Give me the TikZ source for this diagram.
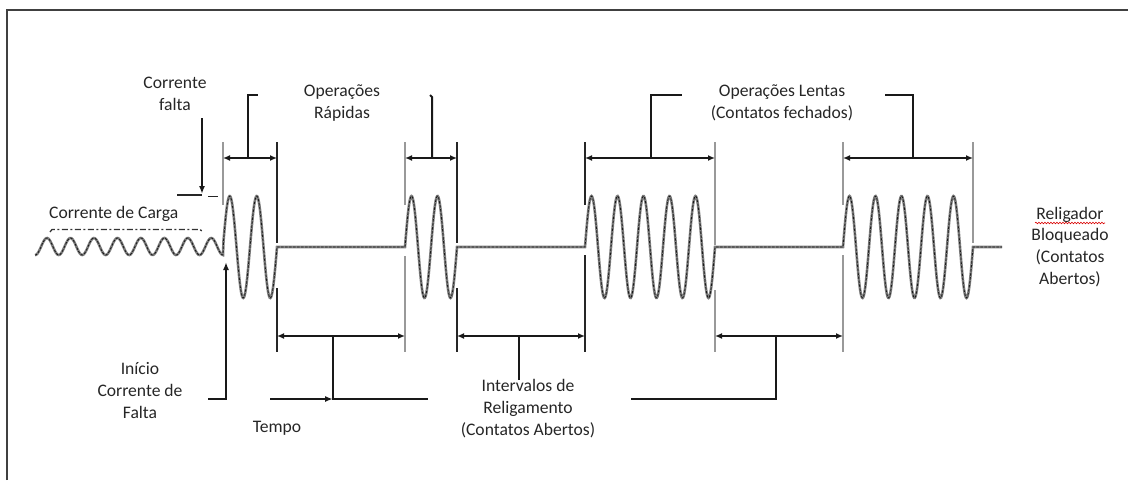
\documentclass[tikz,border=0pt]{standalone}
\usepackage{fontspec}
\setmainfont{Carlito}
\usetikzlibrary{arrows.meta,decorations.pathmorphing}
\begin{document}
\begin{tikzpicture}[x=1pt,y=-1pt,
  txt/.style={font=\fontsize{17.6}{21.7}\selectfont, text=black!85, align=center, inner sep=0pt},
  wave/.style={draw=black!90, line width=0.8pt, dash pattern=on 2.5pt off 1.5pt, line join=round,
               preaction={draw=black!50, line width=2.6pt, solid}},
  mdark/.style={draw=black!85, line width=1.7pt},
  mgray/.style={draw=black!40, line width=1.7pt},
  dimarrow/.style={draw=black!90, line width=2pt, {Latex[length=7pt,width=6pt]}-{Latex[length=7pt,width=6pt]}},
  lead/.style={draw=black!90, line width=2pt},
  ptr/.style={draw=black!90, line width=2pt, -{Latex[length=8pt,width=6pt]}}
]
\useasboundingbox (0,0) rectangle (1128,480);
% frame (top and left only)
\coordinate (fbl) at (7,480); \coordinate (ftl) at (7,10); \coordinate (ftr) at (1128,10);
\draw[black!75, line width=1.6pt] (fbl) -- (ftl) -- (ftr);

% ---------- signal trace ----------
\draw[wave] plot[domain=35:223, samples=200] (\x,{246.5-8.5*sin(15.339*(\x-41.13))})
  -- (223,255)
  -- plot[domain=223.5:277, samples=90] (\x,{247-51*sin(13.333*(\x-223))})
  -- (405,247)
  -- plot[domain=405:457, samples=90] (\x,{247-51*sin(13.846*(\x-405))})
  -- (585,247)
  -- plot[domain=585:715, samples=200] (\x,{247-51*sin(13.846*(\x-585))})
  -- (843,247)
  -- plot[domain=843:973, samples=200] (\x,{247-51*sin(13.846*(\x-843))})
  -- (1002,247);

% dashed line over load current
\coordinate (dl1) at (50,232); \coordinate (dl2) at (52,229.5);
\coordinate (dl3) at (200,229.5); \coordinate (dl4) at (203,232);
\draw[black!80, line width=1.3pt, dash pattern=on 6pt off 2.5pt on 2pt off 2.5pt] (dl1) -- (dl2) -- (dl3) -- (dl4);

% ---------- marker lines ----------
\coordinate (a1t) at (223,142); \coordinate (a1b) at (223,205);
\coordinate (b1t) at (277,142); \coordinate (b1m) at (277,243);
\coordinate (b1l) at (277,288); \coordinate (b1d) at (277,352);
\coordinate (a2t) at (405,142); \coordinate (a2b) at (405,205);
\coordinate (a2l) at (405,256); \coordinate (a2d) at (405,352);
\coordinate (b2t) at (457,142); \coordinate (b2m) at (457,243);
\coordinate (b2l) at (457,288); \coordinate (b2d) at (457,352);
\coordinate (a3t) at (585,142); \coordinate (a3b) at (585,205);
\coordinate (a3l) at (585,255); \coordinate (a3d) at (585,352);
\coordinate (b3t) at (715,142); \coordinate (b3m) at (715,245);
\coordinate (b3l) at (715,290); \coordinate (b3d) at (715,352);
\coordinate (a4t) at (843,142); \coordinate (a4b) at (843,205);
\coordinate (a4l) at (843,255); \coordinate (a4d) at (843,352);
\coordinate (b4t) at (973,142); \coordinate (b4m) at (973,243);

\draw[mgray] (a1t) -- (a1b);
\draw[mdark] (b1t) -- (b1m);  \draw[mdark] (b1l) -- (b1d);
\draw[mgray] (a2t) -- (a2b);  \draw[mgray] (a2l) -- (a2d);
\draw[mdark] (b2t) -- (b2m);  \draw[mdark] (b2l) -- (b2d);
\draw[mdark] (a3t) -- (a3b);  \draw[mdark] (a3l) -- (a3d);
\draw[mgray] (b3t) -- (b3m);  \draw[mgray] (b3l) -- (b3d);
\draw[mgray] (a4t) -- (a4b);  \draw[mgray] (a4l) -- (a4d);
\draw[mgray] (b4t) -- (b4m);

% ---------- upper dimension arrows ----------
\coordinate (u1a) at (223,158); \coordinate (u1b) at (277,158);
\coordinate (u2a) at (405,158); \coordinate (u2b) at (457,158);
\coordinate (u3a) at (585,158); \coordinate (u3b) at (715,158);
\coordinate (u4a) at (843,158); \coordinate (u4b) at (973,158);
\draw[dimarrow] (u1a) -- (u1b);
\draw[dimarrow] (u2a) -- (u2b);
\draw[dimarrow] (u3a) -- (u3b);
\draw[dimarrow] (u4a) -- (u4b);

\coordinate (s1) at (248,158); \coordinate (s1t) at (248,95); \coordinate (s1e) at (258,95);
\coordinate (s2) at (432,158); \coordinate (s2t) at (432,97); \coordinate (s2e) at (430,95);
\coordinate (s3) at (651,158); \coordinate (s3t) at (651,95); \coordinate (s3e) at (682,95);
\coordinate (s4) at (913,158); \coordinate (s4t) at (913,95); \coordinate (s4e) at (885,95);
\draw[lead] (s1) -- (s1t) -- (s1e);
\draw[lead] (s2) -- (s2t) -- (s2e);
\draw[lead] (s3) -- (s3t) -- (s3e);
\draw[lead] (s4) -- (s4t) -- (s4e);

% ---------- lower dimension arrows ----------
\coordinate (l1a) at (277,336); \coordinate (l1b) at (405,336);
\coordinate (l2a) at (457,336); \coordinate (l2b) at (585,336);
\coordinate (l3a) at (715,336); \coordinate (l3b) at (843,336);
\draw[dimarrow] (l1a) -- (l1b);
\draw[dimarrow] (l2a) -- (l2b);
\draw[dimarrow] (l3a) -- (l3b);

\coordinate (t1) at (333,336); \coordinate (t1b) at (333,399); \coordinate (t1e) at (428,399);
\coordinate (tp) at (270,399);
\coordinate (t2) at (519,336); \coordinate (t2b) at (519,380);
\coordinate (t3) at (776,336); \coordinate (t3b) at (776,399); \coordinate (t3e) at (631,399);
\draw[lead] (t1) -- (t1b) -- (t1e);
\draw[ptr] (tp) -- (t1b);
\draw[lead] (t2) -- (t2b);
\draw[lead] (t3) -- (t3b) -- (t3e);

% ---------- fault current pointers ----------
\coordinate (cf1) at (202,118); \coordinate (cf2) at (202,194);
\coordinate (cl1) at (177,195); \coordinate (cl2) at (202,195);
\coordinate (cl3) at (208,196.5); \coordinate (cl4) at (218,196.5);
\draw[ptr] (cf1) -- (cf2);
\draw[black!85, line width=1.4pt] (cl1) -- (cl2);
\draw[black!85, line width=1.4pt] (cl3) -- (cl4);

\coordinate (ic1) at (208,399); \coordinate (ic2) at (226,399); \coordinate (ic3) at (226,262);
\draw[ptr] (ic1) -- (ic2) -- (ic3);

% ---------- labels ----------
\node[txt] (cfalta) at (175,95) {\strut Corrente\\\strut falta};
\node[txt] (oprap) at (342,103.5) {\strut Operações\\\strut Rápidas};
\node[txt] (oplen) at (782,103.5) {\strut Operações Lentas\\\strut (Contatos fechados)};
\node[txt, anchor=west] (ccarga) at (49,214) {\strut Corrente de Carga};
\node[txt] (relig) at (1070,247.5) {\strut Religador\\\strut Bloqueado\\\strut (Contatos\\\strut Abertos)};
\node[txt] (inicio) at (140,392) {\strut Início\\\strut Corrente de\\\strut Falta};
\node[txt] (tempo) at (277,428) {\strut Tempo};
\node[txt] (interv) at (528,409) {\strut Intervalos de\\\strut Religamento\\\strut (Contatos Abertos)};

% spell-check squiggle under "Religador"
\coordinate (sq1) at (1035,223); \coordinate (sq2) at (1105,223);
\draw[red!85!black, line width=0.6pt, decorate, decoration={snake, amplitude=0.8pt, segment length=3pt}] (sq1) -- (sq2);
\end{tikzpicture}
\end{document}
